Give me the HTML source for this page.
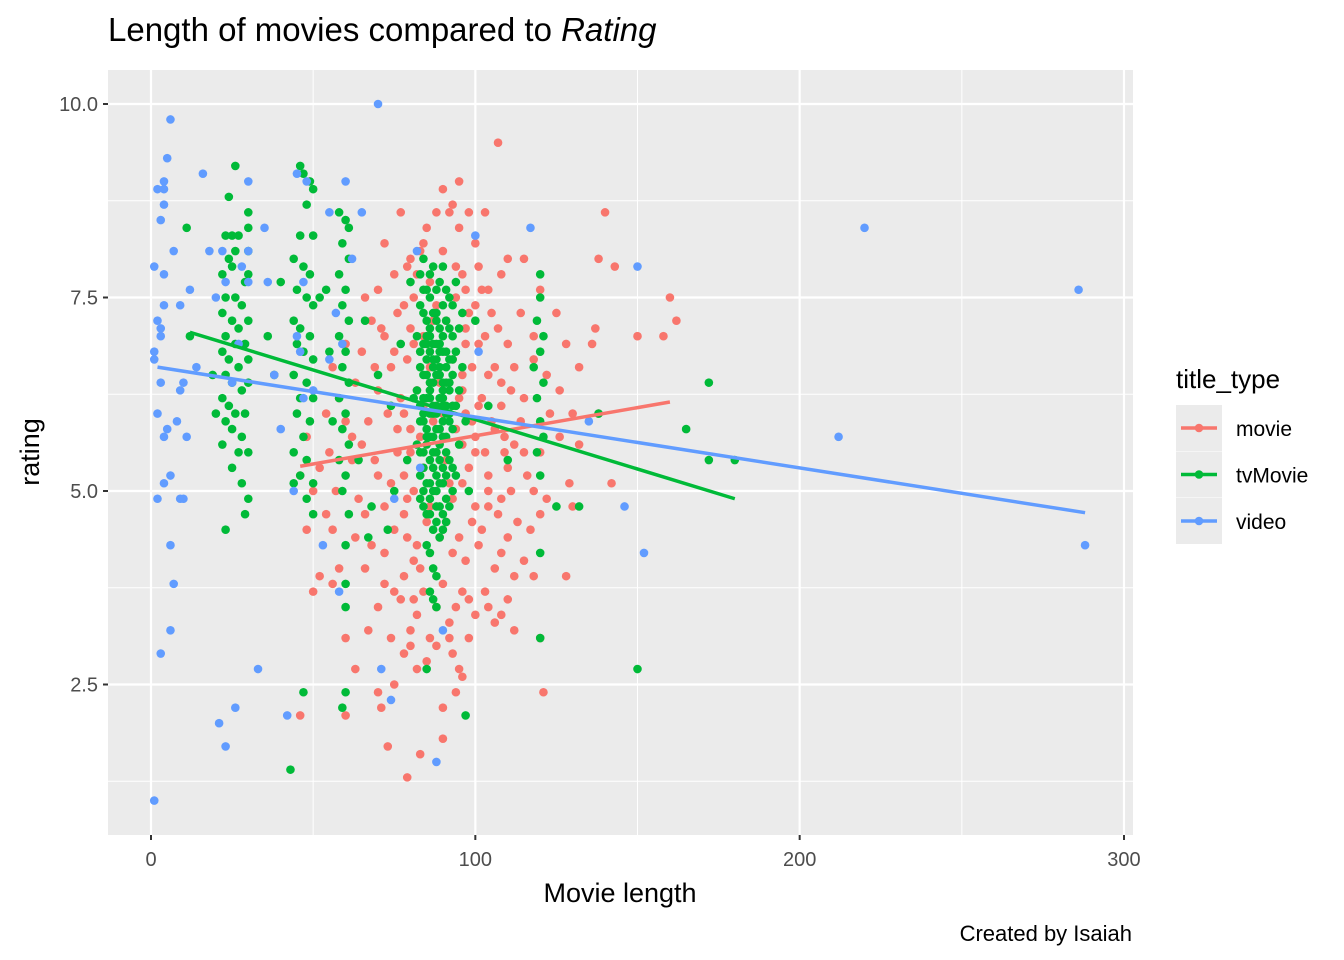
<!DOCTYPE html>
<html><head><meta charset="utf-8">
<style>
body{margin:0;background:#fff;}
svg{display:block;font-family:"Liberation Sans",Arial,sans-serif;}
</style></head>
<body>
<svg id="chart" width="1344" height="960" viewBox="0 0 1344 960" xmlns="http://www.w3.org/2000/svg">
<rect x="0" y="0" width="1344" height="960" fill="#fff"/>
<text x="108" y="41" font-size="33" fill="#000">Length of movies compared to <tspan font-style="italic">Rating</tspan></text>
<rect x="108" y="70" width="1025" height="765" fill="#EBEBEB"/>
<g id="grid"></g>
<g id="points"></g>
<g id="axes"></g>
<text x="620" y="902" font-size="27" text-anchor="middle" fill="#000">Movie length</text>
<text transform="translate(39,452) rotate(-90)" font-size="27" text-anchor="middle" fill="#000">rating</text>
<text x="1132" y="941" font-size="22" text-anchor="end" fill="#000">Created by Isaiah</text>
<g>
<text x="1176" y="388" font-size="26" fill="#000">title_type</text>
<g id="legend-keys"></g>
</g>
</svg>
<script>
const xTicks=[0,100,200,300];
const xMinor=[50,150,250];
const yTicks=[2.5,5.0,7.5,10.0];
const yMinor=[1.25,3.75,6.25,8.75];
const seriesNames=["movie","tvMovie","video"];
const seriesColors=["#F8766D","#00BA38","#619CFF"];
// trend lines [x0,y0,x1,y1]
const movieTrend=[46,5.32,160,6.15];
const tvMovieTrend=[12,7.05,180,4.9];
const videoTrend=[2,6.6,288,4.72];
const moviePts=[[107,9.5],[95,9.0],[90,8.9],[93,8.7],[88,8.6],[92,8.6],[98,8.6],[103,8.6],[77,8.6],[140,8.6],[85,8.4],[95,8.4],[100,8.2],[72,8.2],[80,8.0],[84,8.2],[90,8.1],[110,8.0],[115,8.0],[138,8.0],[143,7.9],[75,7.8],[82,7.8],[86,7.7],[96,7.8],[102,7.6],[108,7.8],[120,7.6],[160,7.5],[66,7.5],[70,7.6],[78,7.4],[88,7.4],[94,7.5],[100,7.4],[105,7.3],[114,7.3],[125,7.3],[137,7.1],[158,7.0],[162,7.2],[150,7.0],[68,7.2],[72,7.0],[80,7.1],[84,7.0],[91,7.2],[97,7.1],[103,7.0],[110,6.9],[118,7.0],[128,6.9],[136,6.9],[60,6.9],[65,6.8],[75,6.8],[79,6.7],[86,6.6],[93,6.7],[99,6.6],[104,6.5],[112,6.6],[122,6.5],[132,6.6],[56,6.6],[63,6.4],[70,6.3],[77,6.2],[82,6.3],[89,6.4],[96,6.3],[102,6.2],[108,6.1],[115,6.2],[126,6.3],[130,6.0],[138,6.0],[54,6.0],[60,5.9],[67,5.9],[73,6.0],[80,5.8],[87,5.9],[94,5.8],[100,5.7],[106,5.8],[112,5.6],[120,5.5],[132,5.6],[48,5.7],[55,5.5],[62,5.4],[69,5.4],[76,5.5],[84,5.3],[91,5.4],[98,5.3],[104,5.2],[110,5.3],[118,5.0],[129,5.1],[142,5.1],[46,5.2],[50,5.0],[57,5.0],[64,4.9],[72,4.8],[79,4.9],[86,4.8],[93,4.9],[100,4.8],[107,4.7],[113,4.6],[120,4.7],[130,4.8],[48,4.5],[56,4.5],[63,4.4],[68,4.3],[75,4.5],[82,4.3],[89,4.4],[95,4.4],[101,4.3],[108,4.2],[115,4.1],[128,3.9],[52,3.9],[56,3.8],[66,4.0],[72,3.8],[78,3.9],[84,3.7],[90,3.8],[96,3.7],[103,3.7],[110,3.6],[118,3.9],[50,3.7],[70,3.5],[77,3.6],[82,3.4],[88,3.5],[94,3.5],[100,3.4],[106,3.3],[112,3.2],[60,3.1],[67,3.2],[74,3.1],[80,3.2],[86,3.1],[92,3.1],[98,3.1],[120,3.1],[78,2.9],[85,2.8],[95,2.7],[96,2.6],[63,2.7],[70,2.4],[71,2.2],[75,2.5],[60,2.1],[46,2.1],[90,2.2],[121,2.4],[73,1.7],[83,1.6],[90,1.8],[79,1.3],[94,2.4],[108,4.9],[90,6.0],[88,5.5],[92,5.1],[84,6.1],[97,6.9],[102,4.5],[106,6.6],[78,5.2],[81,4.1],[99,5.9],[87,7.2],[91,4.6],[95,6.2],[103,5.5],[109,5.5],[85,4.6],
[79,7.9],[83,8.1],[94,7.9],[97,7.6],[101,7.9],[76,7.3],[81,7.5],[98,7.3],[104,7.6],[107,7.1],[74,6.6],[81,6.9],[96,6.5],[101,6.9],[108,6.4],[111,6.3],[78,6.0],[83,5.7],[97,6.0],[101,6.1],[105,5.9],[109,5.7],[114,5.9],[76,5.8],[80,5.5],[96,5.6],[100,5.5],[104,5.0],[111,5.0],[115,5.5],[74,5.1],[78,4.7],[81,5.0],[96,5.1],[99,4.6],[104,4.8],[110,4.4],[117,4.5],[72,4.2],[79,4.4],[83,4.0],[93,4.2],[97,4.1],[106,4.0],[112,3.9],[75,3.7],[81,3.6],[92,3.3],[98,3.6],[104,3.5],[108,3.4],[80,3.0],[88,3.0],[93,2.9],[82,2.7],[118,6.7],[123,6.0],[126,5.7],[116,5.2],[122,4.9],[66,4.7],[70,5.2],[65,5.6],[69,6.6],[71,7.1],[58,6.2],[62,5.7],[54,4.7],[52,5.3],[58,4.0]];
const tvMoviePts=[[26,9.2],[24,8.8],[23,8.3],[25,8.3],[27,8.3],[30,8.6],[30,8.4],[24,8.0],[26,8.1],[30,8.1],[22,7.8],[25,7.9],[29,7.7],[30,7.8],[23,7.5],[26,7.5],[28,7.4],[22,7.3],[25,7.2],[27,7.1],[30,7.2],[23,7.0],[26,6.9],[29,6.9],[22,6.8],[24,6.7],[27,6.6],[30,6.7],[23,6.5],[25,6.4],[28,6.3],[30,6.4],[22,6.2],[24,6.1],[26,6.0],[29,6.0],[23,5.9],[25,5.8],[28,5.7],[22,5.6],[27,5.5],[30,5.5],[25,5.3],[28,5.1],[30,4.9],[29,4.7],[23,4.5],[11,8.4],[12,7.0],[19,6.5],[20,6.0],
[46,9.2],[47,9.1],[49,9.0],[50,8.9],[48,8.7],[46,8.3],[50,8.3],[44,8.0],[47,7.9],[49,7.8],[45,7.6],[48,7.5],[50,7.4],[44,7.2],[46,7.1],[49,7.0],[45,6.9],[47,6.8],[50,6.7],[44,6.5],[48,6.4],[46,6.2],[50,6.2],[45,6.0],[49,5.9],[47,5.7],[44,5.5],[48,5.4],[46,5.2],[50,5.1],[44,5.1],[48,4.9],[50,4.7],[47,2.4],[43,1.4],[38,6.5],[36,7.0],[40,7.7],[52,7.5],[54,7.6],[55,6.8],[56,5.9],
[58,8.6],[60,8.5],[61,8.4],[59,8.2],[61,8.0],[58,7.8],[60,7.6],[59,7.4],[61,7.2],[58,7.0],[60,6.8],[59,6.6],[61,6.4],[58,6.2],[60,6.0],[59,5.8],[61,5.6],[58,5.4],[60,5.2],[59,5.0],[61,4.7],[60,4.3],[60,3.8],[60,3.5],[60,2.4],[59,2.2],[64,5.4],[66,7.2],[68,4.8],[67,4.4],[73,4.5],[70,6.5],
[84,8.0],[86,7.8],[88,7.6],[90,7.9],[92,7.5],[94,7.7],[96,7.3],[83,7.4],[85,7.2],[87,7.3],[89,7.1],[91,7.2],[93,7.0],[95,7.1],[82,7.0],[84,6.9],[86,6.8],[88,6.9],[90,6.8],[92,6.7],[94,6.8],[83,6.6],[85,6.5],[87,6.6],[89,6.5],[91,6.4],[93,6.5],[95,6.3],[82,6.3],[84,6.2],[86,6.3],[88,6.1],[90,6.2],[92,6.0],[94,6.1],[83,5.9],[85,5.8],[87,6.0],[89,5.8],[91,5.7],[93,5.8],[95,5.6],[82,5.6],[84,5.5],[86,5.4],[88,5.5],[90,5.3],[92,5.4],[94,5.2],[83,5.2],[85,5.1],[87,5.0],[89,5.1],[91,4.9],[93,5.0],[84,4.8],[86,4.7],[88,4.6],[90,4.5],[85,4.3],[87,4.0],[86,3.7],[88,3.5],[85,2.7],[97,2.1],[80,7.7],[81,6.2],[79,5.4],[96,6.6],[97,5.9],[98,5.0],[86,7.0],[88,6.7],[90,6.4],[84,6.0],[86,5.7],[88,5.2],[90,5.9],[87,6.4],[89,6.9],[91,6.1],[85,6.7],[87,5.3],[89,4.8],[92,6.3],[84,5.0],
[83,7.8],[85,7.6],[87,7.9],[89,7.7],[91,7.6],[93,7.4],[84,7.3],[86,7.1],[88,7.2],[90,7.0],[92,7.1],[83,6.8],[85,6.9],[87,6.7],[89,6.8],[91,6.6],[93,6.7],[84,6.5],[86,6.4],[88,6.5],[90,6.3],[92,6.4],[83,6.1],[85,6.2],[87,6.1],[89,6.2],[91,6.0],[93,6.1],[84,5.9],[86,6.0],[88,5.8],[90,5.7],[92,5.9],[83,5.5],[85,5.6],[87,5.7],[89,5.4],[91,5.5],[93,5.3],[84,5.3],[86,5.1],[88,5.0],[90,5.1],[92,4.8],[83,4.9],[85,4.7],[87,4.5],[89,4.4],[91,4.6],[86,4.2],[88,3.9],[87,3.6],[84,7.6],[86,7.5],[88,7.3],[90,7.4],[85,7.0],[87,6.9],[89,6.6],[91,6.8],[86,6.2],[88,6.0],[90,6.1],[85,5.7],[87,5.5],[89,5.6],[91,5.2],[86,4.9],[88,4.8],[90,4.7],
[120,7.8],[120,7.5],[119,7.2],[121,7.0],[120,6.8],[118,6.6],[121,6.4],[119,6.2],[120,5.9],[121,5.7],[119,5.5],[120,5.2],[120,4.2],[120,3.1],[125,4.8],[132,4.8],[138,6.0],[150,2.7],[165,5.8],[172,6.4],[172,5.4],[180,5.4],[100,7.2],[104,6.1],[110,5.4],[77,6.9],[74,6.1],[75,5.0]];
const videoPts=[[2,8.9],[4,8.9],[5,9.3],[4,9.0],[6,9.8],[3,8.5],[4,8.7],[1,7.9],[4,7.8],[2,7.2],[3,7.1],[4,7.4],[3,7.0],[1,6.8],[1,6.7],[3,6.4],[2,6.0],[4,5.7],[5,5.8],[6,5.2],[4,5.1],[2,4.9],[9,4.9],[10,4.9],[6,4.3],[7,3.8],[6,3.2],[3,2.9],[1,1.0],[8,5.9],[9,6.3],[10,6.4],[11,5.7],[12,7.6],[9,7.4],[7,8.1],[16,9.1],[18,8.1],[22,8.1],[23,7.7],[28,7.9],[30,9.0],[30,8.1],[30,7.7],[35,8.4],[33,2.7],[26,2.2],[21,2.0],[23,1.7],[42,2.1],[45,9.1],[48,9.0],[47,7.7],[45,7.0],[46,6.8],[44,5.0],[60,9.0],[55,8.6],[57,7.3],[59,6.9],[53,4.3],[58,3.7],[65,8.6],[70,10.0],[71,2.7],[74,2.3],[75,4.9],[82,8.1],[83,5.3],[88,1.5],[90,3.2],[100,8.3],[101,6.8],[117,8.4],[135,5.9],[146,4.8],[150,7.9],[152,4.2],[212,5.7],[220,8.4],[286,7.6],[288,4.3],[14,6.6],[20,7.5],[25,6.4],[27,6.9],[38,6.5],[40,5.8],[47,6.2],[36,7.7],[55,6.7],[50,6.3],[62,8.0]];

const NS="http://www.w3.org/2000/svg";
const PL=108,PR=1133,PT=70,PB=835;
function sx(v){return 151+v*3.2433;}
function sy(v){return 104+(10-v)*77.4;}
function mk(tag,attrs,parent){const e=document.createElementNS(NS,tag);for(const k in attrs)e.setAttribute(k,attrs[k]);parent.appendChild(e);return e;}
const grid=document.getElementById('grid'),axes=document.getElementById('axes');
xMinor.forEach(v=>{const l=mk('line',{x1:sx(v),x2:sx(v),y1:PT,y2:PB,stroke:'#fff','stroke-width':1},grid);

});
yMinor.forEach(v=>{const l=mk('line',{x1:PL,x2:PR,y1:sy(v),y2:sy(v),stroke:'#fff','stroke-width':1},grid);

});
xTicks.forEach(v=>{const l=mk('line',{x1:sx(v),x2:sx(v),y1:PT,y2:PB,stroke:'#fff','stroke-width':2.2},grid);


const t=mk('line',{x1:sx(v),x2:sx(v),y1:PB,y2:PB+5,stroke:'#333','stroke-width':2},axes);


const tx=mk('text',{x:sx(v),y:PB+31,'font-size':20,'text-anchor':'middle',fill:'#4D4D4D'},axes);


tx.textContent=v;});
yTicks.forEach(v=>{const l=mk('line',{x1:PL,x2:PR,y1:sy(v),y2:sy(v),stroke:'#fff','stroke-width':2.2},grid);


const t=mk('line',{x1:PL-5,x2:PL,y1:sy(v),y2:sy(v),stroke:'#333','stroke-width':2},axes);


const tx=mk('text',{x:PL-10,y:sy(v)+7,'font-size':20,'text-anchor':'end',fill:'#4D4D4D'},axes);


tx.textContent=v.toFixed(1);});
const pts=document.getElementById('points');
[moviePts,tvMoviePts,videoPts].forEach((arr,i)=>{arr.forEach(p=>{const c=mk('circle',{cx:sx(p[0]),cy:sy(p[1]),r:4.3,fill:seriesColors[i]},pts);

});});
const lg=document.createElementNS(NS,'g');
[movieTrend,tvMovieTrend,videoTrend].forEach((t,i)=>{const l=mk('line',{x1:sx(t[0]),y1:sy(t[1]),x2:sx(t[2]),y2:sy(t[3]),stroke:seriesColors[i],'stroke-width':3.5,'stroke-linecap':'butt'},lg);

});
document.getElementById('chart').insertBefore(lg,document.getElementById('axes'));
const lk=document.getElementById('legend-keys');
seriesNames.forEach((n,i)=>{const y0=405+i*46.5;
const g=mk('g',{},lk);


mk('rect',{x:1176,y:y0,width:46,height:46,fill:'#EBEBEB'},g);
mk('line',{x1:1181,x2:1217,y1:y0+23,y2:y0+23,stroke:seriesColors[i],'stroke-width':3.5},g);
mk('circle',{cx:1199,cy:y0+23,r:4.3,fill:seriesColors[i]},g);
const t=mk('text',{x:1236,y:y0+31,'font-size':21,fill:'#000'},g);
t.textContent=n;});
</script>
</body></html>
